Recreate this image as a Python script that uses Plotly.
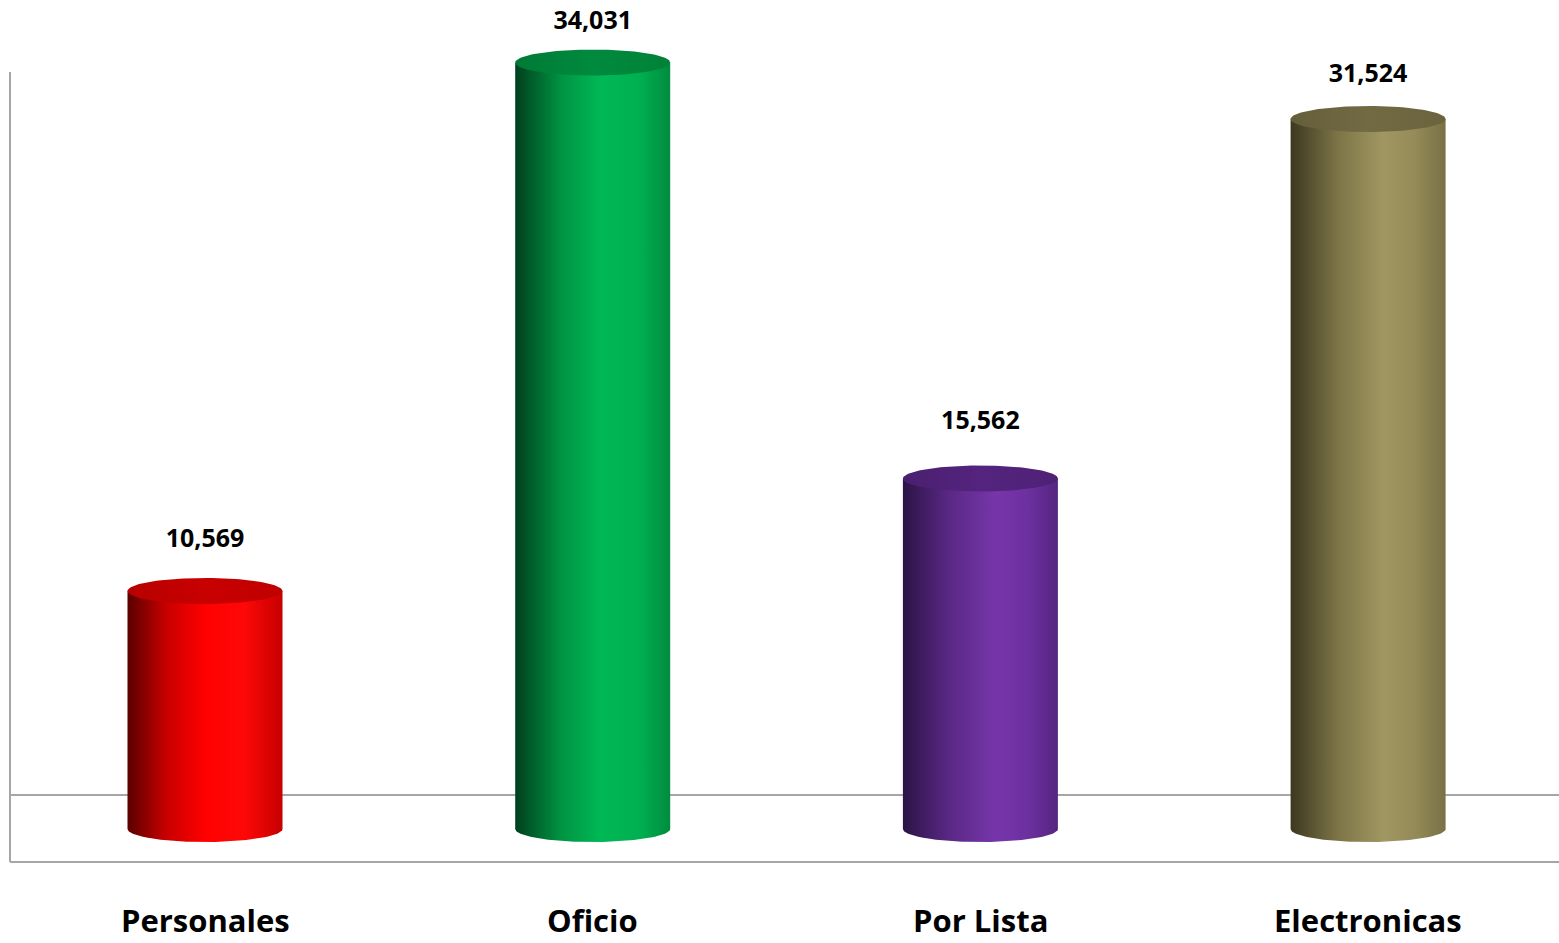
import numpy as np
import plotly.graph_objects as go

# Data
categories = ["Personales", "Oficio", "Por Lista", "Electronicas"]
values = [10569, 34031, 15562, 31524]

# Cylinder colour ramps (left -> right) for the side and the lid
body_scales = [
    [[0, "#5a0000"], [0.25, "#c80000"], [0.5, "#ff0000"], [0.75, "#ff0808"], [1, "#c60000"]],
    [[0, "#00401d"], [0.3, "#009443"], [0.55, "#00b855"], [0.8, "#00b050"], [1, "#008c3e"]],
    [[0, "#2b1445"], [0.3, "#5a2885"], [0.6, "#7636aa"], [0.8, "#6d30a0"], [1, "#562580"]],
    [[0, "#3c3820"], [0.3, "#7c7446"], [0.6, "#a09762"], [0.8, "#948b58"], [1, "#797046"]],
]
lid_scales = [
    [[0, "#b80000"], [0.5, "#c80000"], [1, "#c00000"]],
    [[0, "#007a36"], [0.5, "#008a3e"], [1, "#008238"]],
    [[0, "#4a1f70"], [0.5, "#54247e"], [1, "#4e2176"]],
    [[0, "#655e3a"], [0.5, "#726a43"], [1, "#6a633d"]],
]
# vertical gap (pixels) between each lid centre and its value label
label_gaps_px = [50, 40, 56, 43]

# Pixel geometry of the drawing area
W, H = 1559, 943
PX_UNITS = 44.4          # value units per vertical pixel
BASE_PX = 829            # pixel row of the zero level
SPACING_PX = 387.7       # horizontal distance between categories
FIRST_PX = 205           # pixel column of the first category

x_range = [(0 - FIRST_PX) / SPACING_PX, (W - FIRST_PX) / SPACING_PX]
y_range = [-(H - BASE_PX) * PX_UNITS, BASE_PX * PX_UNITS]


def px_x(p):
    return (p - FIRST_PX) / SPACING_PX


def px_y(p):
    return (BASE_PX - p) * PX_UNITS


HALF_W = 77.5 / SPACING_PX       # cylinder radius (x units)
ELL_H = 13 * PX_UNITS            # ellipse half height (y units)

fig = go.Figure()

t_front = np.linspace(np.pi, 2 * np.pi, 60)   # lower (front) half of an ellipse
t_full = np.linspace(0, 2 * np.pi, 120)

for i, (cat, v) in enumerate(zip(categories, values)):
    xc = i
    # side of the cylinder: straight sides plus the rounded bottom edge
    bx = np.concatenate([[xc - HALF_W], xc + HALF_W * np.cos(t_front), [xc + HALF_W, xc - HALF_W]])
    by = np.concatenate([[0], ELL_H * np.sin(t_front), [v, v]])
    fig.add_trace(go.Scatter(
        x=bx, y=by, mode="lines", line=dict(width=0), fill="toself",
        fillgradient=dict(type="horizontal", colorscale=body_scales[i]),
        hoverinfo="skip", showlegend=False,
    ))
    # lid
    fig.add_trace(go.Scatter(
        x=xc + HALF_W * np.cos(t_full), y=v + ELL_H * np.sin(t_full),
        mode="lines", line=dict(width=0), fill="toself",
        fillgradient=dict(type="horizontal", colorscale=lid_scales[i]),
        hoverinfo="skip", showlegend=False,
    ))

# value labels above each cylinder
fig.add_trace(go.Scatter(
    x=list(range(len(values))),
    y=[v + g * PX_UNITS for v, g in zip(values, label_gaps_px)],
    mode="text",
    text=[f"{v:,}" for v in values], textposition="middle center",
    textfont=dict(family="Open Sans", size=25, color="#000000", weight="bold"),
    hoverinfo="skip", showlegend=False,
))

# category labels under the floor
for i, cat in enumerate(categories):
    fig.add_annotation(
        x=i, y=px_y(920), xref="x", yref="y", text=cat, showarrow=False,
        font=dict(family="Open Sans", size=31, color="#000000", weight="bold"),
        xanchor="center", yanchor="middle", borderpad=0,
    )

# floor and wall edges
grey = "#a6a6a6"
fig.add_shape(type="line", x0=px_x(10), x1=px_x(W), y0=px_y(795), y1=px_y(795),
              line=dict(color=grey, width=2), layer="below")
fig.add_shape(type="line", x0=px_x(10), x1=px_x(W), y0=px_y(862), y1=px_y(862),
              line=dict(color=grey, width=2), layer="below")
fig.add_shape(type="line", x0=px_x(10), x1=px_x(10), y0=px_y(72), y1=px_y(862),
              line=dict(color=grey, width=2), layer="below")

fig.update_layout(
    width=W, height=H,
    margin=dict(l=0, r=0, t=0, b=0),
    paper_bgcolor="#ffffff", plot_bgcolor="#ffffff",
    xaxis=dict(range=x_range, visible=False, fixedrange=True),
    yaxis=dict(range=y_range, visible=False, fixedrange=True),
    showlegend=False,
)

fig.write_html("out.html")
